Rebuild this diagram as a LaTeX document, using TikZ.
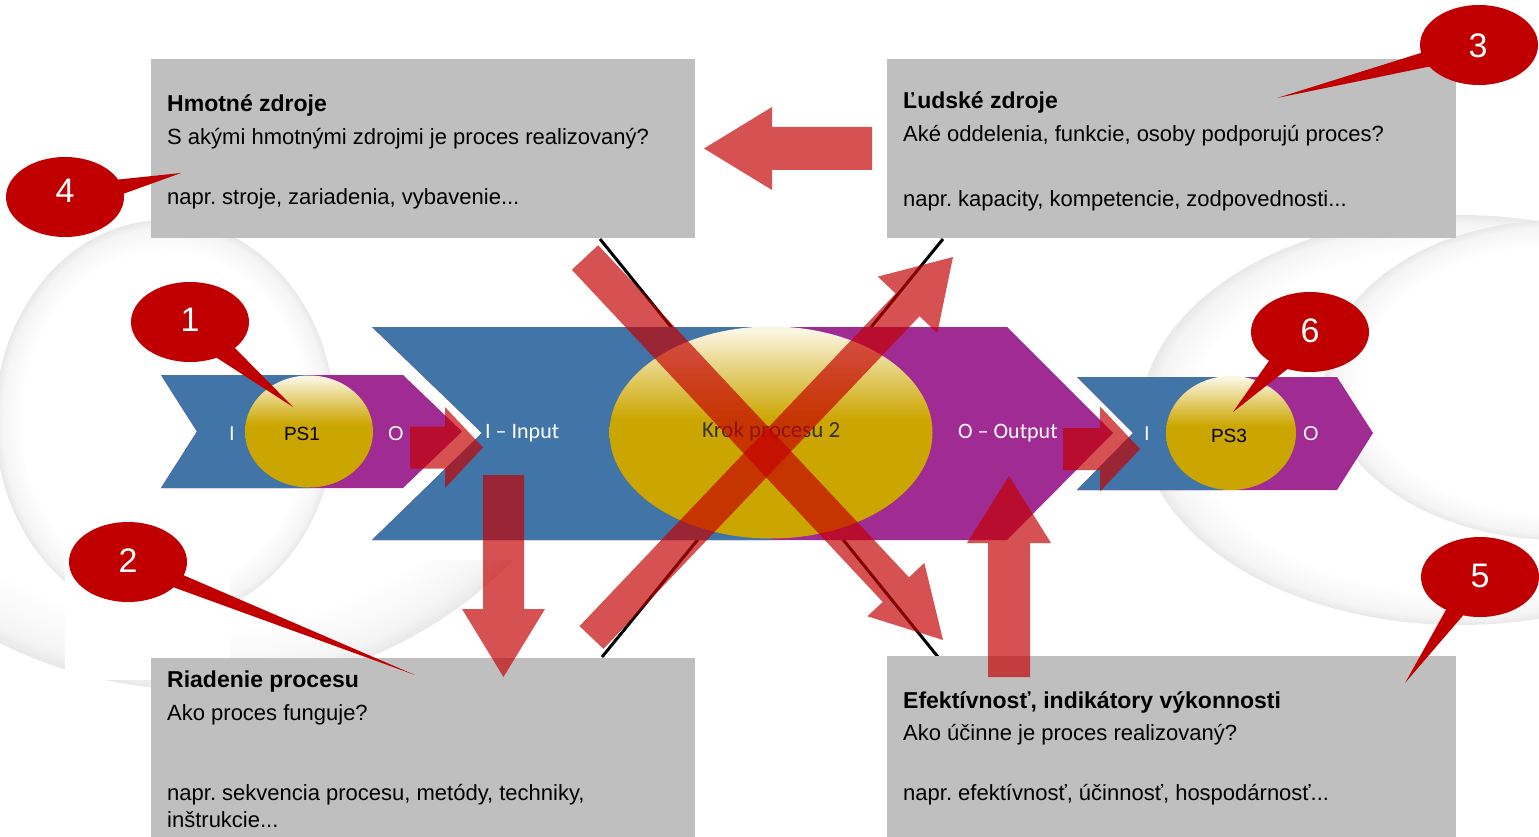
\documentclass[tikz,border=0pt]{standalone}
\usepackage{fontspec}
\setmainfont{Liberation Sans}
\newfontfamily\calibri{Carlito}
\usetikzlibrary{calc,shapes.geometric}

\definecolor{procblue}{HTML}{4174A7}
\definecolor{procpurple}{HTML}{A02B93}
\definecolor{procgold}{HTML}{CCA600}
\definecolor{proccream}{HTML}{FBF6E2}
\definecolor{callred}{HTML}{C00000}
\definecolor{boxgray}{HTML}{BFBFBF}
\definecolor{arrowred}{HTML}{C40000}

% the path box spans 25bp..75bp of these shadings
\pgfdeclareverticalshading{goldshade}{100bp}{color(0bp)=(procgold); color(53bp)=(procgold); color(63bp)=(procgold!55!proccream); color(74bp)=(proccream); color(100bp)=(proccream)}
\pgfdeclareradialshading{rimshade}{\pgfpoint{0bp}{0bp}}{color(0bp)=(white); color(21bp)=(white); color(24bp)=(black!4); color(25bp)=(black!9); color(50bp)=(black!9)}

% broad translucent arrow: start, tip, half shaft width, half head width, head length
\newcommand\fatarrow[5]{%
  \coordinate (fa-h) at ($(#2)!#5!(#1)$);
  \fill[arrowfill] ($(#1)!#3!90:(#2)$) -- ($(fa-h)!#3!90:(#2)$) -- ($(fa-h)!#4!90:(#2)$)
    -- (#2) -- ($(fa-h)!#4!-90:(#2)$) -- ($(fa-h)!#3!-90:(#2)$) -- ($(#1)!#3!-90:(#2)$) -- cycle;}

% speech bubble pointer: bubble node, two base points, tip
\newcommand\bubblepointer[4]{%
  \fill[callred] (#1.center) -- (#2) -- (#4) -- (#3) -- cycle;}

\frenchspacing
\begin{document}
\begin{tikzpicture}[x=1pt,y=-1pt,
  graybox/.style={draw=none, fill=boxgray, inner sep=0, anchor=north west},
  boxtitle/.style={anchor=base west, inner sep=0, font=\fontsize{23}{27}\selectfont\bfseries},
  boxtext/.style={anchor=base west, inner sep=0, font=\fontsize{22}{26}\selectfont},
  iolabel/.style={anchor=base, inner sep=0, text=white, font=\fontsize{20}{24}\selectfont},
  pslabel/.style={anchor=base, inner sep=0, font=\fontsize{19}{23}\selectfont},
  stepword/.style={anchor=base west, inner sep=0, text=white, font=\calibri\fontsize{22}{26}\selectfont},
  goldoval/.style={ellipse, shade, shading=goldshade, inner sep=0},
  bubble/.style={ellipse, fill=callred, inner sep=0, minimum width=118pt, minimum height=80pt},
  bubblenum/.style={anchor=base, inner sep=0, text=white, font=\fontsize{34}{40}\selectfont},
  tie/.style={line width=3pt, black},
  arrowfill/.style={fill=arrowred, fill opacity=0.68},
]
\useasboundingbox (0,0) rectangle (1539,837);
\fill[white] (0,0) rectangle (1539,837);

% faint watermark rings
\begin{scope}
\clip (0,560) rectangle (620,700);
\shade[shading=rimshade] (200,300) ellipse [x radius=420pt, y radius=390pt];
\end{scope}
\begin{scope}
\clip (0,0) rectangle (1539,837);
\shade[shading=rimshade] (165,420) ellipse [x radius=170pt, y radius=200pt];
\fill[white] (65,425) rectangle (230,680);
\shade[shading=rimshade] (1460,420) ellipse [x radius=320pt, y radius=205pt];
\shade[shading=rimshade] (1560,380) ellipse [x radius=235pt, y radius=160pt];
\end{scope}

% thin ties between the corner boxes
\coordinate (tlA) at (600,239);
\coordinate (brA) at (938,657);
\coordinate (trB) at (943,239);
\coordinate (blB) at (602,657);
\draw[tie] (tlA) -- (brA);
\draw[tie] (trB) -- (blB);

% resource boxes
\node[graybox, minimum width=544pt, minimum height=179pt] (hmot) at (151,59) {};
\node[graybox, minimum width=569pt, minimum height=179pt] (ludia) at (887,59) {};
\node[graybox, minimum width=544pt, minimum height=182pt] (riad) at (151,658) {};
\node[graybox, minimum width=569pt, minimum height=184pt] (efek) at (887,656) {};

\node[boxtitle] (hmot1) at (167,112) {Hmotné zdroje};
\node[boxtext] (hmot2) at (167,145) {S akými hmotnými zdrojmi je proces realizovaný?};
\node[boxtext] (hmot3) at (167,205) {napr. stroje, zariadenia, vybavenie...};

\node[boxtitle] (ludia1) at (903,109) {Ľudské zdroje};
\node[boxtext] (ludia2) at (903,142) {Aké oddelenia, funkcie, osoby podporujú proces?};
\node[boxtext] (ludia3) at (903,207) {napr. kapacity, kompetencie, zodpovednosti...};

\node[boxtitle] (riad1) at (167,687) {Riadenie procesu};
\node[boxtext] (riad2) at (167,720) {Ako proces funguje?};
\node[boxtext] (riad3) at (167,800) {napr. sekvencia procesu, metódy, techniky,};
\node[boxtext] (riad4) at (167,827) {inštrukcie...};

\node[boxtitle] (efek1) at (903,708) {Efektívnosť, indikátory výkonnosti};
\node[boxtext] (efek2) at (903,740) {Ako účinne je proces realizovaný?};
\node[boxtext] (efek3) at (903,800) {napr. efektívnosť, účinnosť, hospodárnosť...};

% process step PS1
\fill[procpurple] (161,375) -- (403,375) -- (462,431.5) -- (403,488) -- (161,488) -- (197,431.5) -- cycle;
\fill[procblue] (161,375) -- (309,375) -- (309,488) -- (161,488) -- (197,431.5) -- cycle;
\node[goldoval, minimum width=128pt, minimum height=112pt] (ps1) at (309,431.5) {};
\node[iolabel] (ps1in) at (232,440) {I};
\node[iolabel] (ps1out) at (396,440) {O};
\node[pslabel] (ps1txt) at (302,440) {PS1};

% process step 2
\fill[procpurple] (372,327) -- (1007,327) -- (1113,433) -- (1007,540) -- (372,540) -- (482,433) -- cycle;
\fill[procblue] (372,327) -- (771,327) -- (771,540) -- (372,540) -- (482,433) -- cycle;
\node[goldoval, minimum width=323pt, minimum height=212pt] (ps2) at (771,432.5) {};
\node[stepword] (inp) at (485,438) {I – Input};
\node[stepword] (outp) at (958,438) {O – Output};
\node[anchor=base west, inner sep=0, text=black!80, font=\calibri\fontsize{23}{27}\selectfont] (ps2txt) at (702,437) {Krok procesu 2};

% process step PS3
\fill[procpurple] (1077,377) -- (1337,377) -- (1373,433) -- (1337,490) -- (1077,490) -- (1133,433) -- cycle;
\fill[procblue] (1077,377) -- (1222,377) -- (1222,490) -- (1077,490) -- (1133,433) -- cycle;
\node[goldoval, minimum width=130pt, minimum height=114pt] (ps3) at (1231,433) {};
\node[iolabel] (ps3in) at (1147,440) {I};
\node[iolabel] (ps3out) at (1311,440) {O};
\node[pslabel] (ps3txt) at (1229,442) {PS3};

% flow arrows
\coordinate (topS) at (872,148.5);  \coordinate (topT) at (704,148.5);
\coordinate (inS) at (410,447.5);   \coordinate (inT) at (483,447.5);
\coordinate (outS) at (1063,449);   \coordinate (outT) at (1140,449);
\coordinate (dnS) at (503.5,475);   \coordinate (dnT) at (503.5,677);
\coordinate (upS) at (1009,677);    \coordinate (upT) at (1009,476);
\coordinate (xaS) at (585,257.5);   \coordinate (xaT) at (943,640);
\coordinate (xbS) at (591.5,637.5); \coordinate (xbT) at (953,257);
\fatarrow{topS}{topT}{21.5pt}{41.5pt}{68pt}
\fatarrow{inS}{inT}{21pt}{40.5pt}{38pt}
\fatarrow{outS}{outT}{21pt}{42.5pt}{40pt}
\fatarrow{dnS}{dnT}{20.5pt}{41.5pt}{68pt}
\fatarrow{upS}{upT}{21pt}{42pt}{67pt}
\fatarrow{xaS}{xaT}{18pt}{39pt}{69pt}
\fatarrow{xbS}{xbT}{16.5pt}{41pt}{66pt}

% numbered speech bubbles
\node[bubble] (c1) at (190,322) {};
\node[bubble] (c2) at (128,562) {};
\node[bubble] (c3) at (1479,45) {};
\node[bubble] (c4) at (65,197) {};
\node[bubble] (c5) at (1480,577) {};
\node[bubble] (c6) at (1310,332) {};
\coordinate (c1a) at (232,345);  \coordinate (c1b) at (214,356);  \coordinate (c1t) at (293,407);
\coordinate (c2a) at (183,575);  \coordinate (c2b) at (170,586);  \coordinate (c2t) at (415,675);
\coordinate (c3a) at (1424,52);  \coordinate (c3b) at (1432,66);  \coordinate (c3t) at (1277,98);
\coordinate (c4a) at (114,180);  \coordinate (c4b) at (120,195);  \coordinate (c4t) at (181,173);
\coordinate (c5a) at (1447,608); \coordinate (c5b) at (1466,612); \coordinate (c5t) at (1405,683);
\coordinate (c6a) at (1271,358); \coordinate (c6b) at (1290,367); \coordinate (c6t) at (1233,412);
\bubblepointer{c1}{c1a}{c1b}{c1t}
\bubblepointer{c2}{c2a}{c2b}{c2t}
\bubblepointer{c3}{c3a}{c3b}{c3t}
\bubblepointer{c4}{c4a}{c4b}{c4t}
\bubblepointer{c5}{c5a}{c5b}{c5t}
\bubblepointer{c6}{c6a}{c6b}{c6t}
\node[bubblenum] (n1) at (190,331) {1};
\node[bubblenum] (n2) at (128,572) {2};
\node[bubblenum] (n3) at (1478,58) {3};
\node[bubblenum] (n4) at (65,203) {4};
\node[bubblenum] (n5) at (1480,587) {5};
\node[bubblenum] (n6) at (1310,342) {6};
\end{tikzpicture}
\end{document}
